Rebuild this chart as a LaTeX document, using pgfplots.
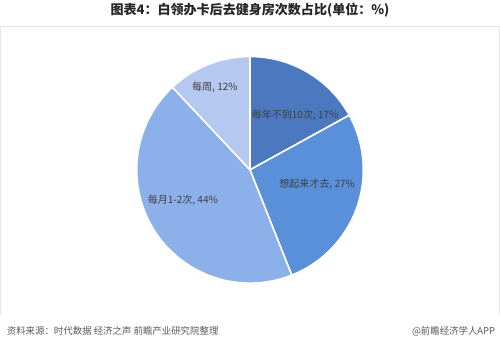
\documentclass[border=0pt]{standalone}
\usepackage{pgfplots}
\usepackage{pgfplotstable}
\pgfplotsset{compat=1.18}
\usepackage{fontspec}
\setmainfont{Noto Sans CJK SC}
\definecolor{cA}{HTML}{4B78BE}
\definecolor{cB}{HTML}{5A8FD9}
\definecolor{cC}{HTML}{8CB0EA}
\definecolor{cD}{HTML}{B5C8EF}
\definecolor{txt}{HTML}{404040}
\definecolor{foot}{HTML}{595959}
\pgfplotstableread[col sep=comma]{
label,value
A,17
B,27
C,44
D,12
}\piedata
\begin{document}
\begin{tikzpicture}
\pgfplotstablegetelem{0}{value}\of\piedata \let\va\pgfplotsretval
\pgfplotstablegetelem{1}{value}\of\piedata \let\vb\pgfplotsretval
\pgfplotstablegetelem{2}{value}\of\piedata \let\vc\pgfplotsretval
\pgfplotstablegetelem{3}{value}\of\piedata \let\vd\pgfplotsretval
\pgfmathsetmacro\aS{90}
\pgfmathsetmacro\aA{\aS-3.6*\va}
\pgfmathsetmacro\aB{\aA-3.6*\vb}
\pgfmathsetmacro\aC{\aB-3.6*\vc}
\pgfmathsetmacro\aD{\aC-3.6*\vd}
\begin{axis}[
  width=500pt, height=349pt, scale only axis,
  xmin=0, xmax=500, ymin=0, ymax=349,
  hide axis, clip=false,
]
% frame
\draw[color=black!10, line width=0.6pt] (axis cs:1,30.5) -- (axis cs:1,318.5) -- (axis cs:499,318.5) -- (axis cs:499,30.5);
% pie
\def\R{113}
\fill[cA, draw=white, line width=1.6pt] (axis cs:250,175) -- ++(\aS:\R) arc[start angle=\aS, end angle=\aA, radius=\R] -- cycle;
\fill[cB, draw=white, line width=1.6pt] (axis cs:250,175) -- ++(\aA:\R) arc[start angle=\aA, end angle=\aB, radius=\R] -- cycle;
\fill[cC, draw=white, line width=1.6pt] (axis cs:250,175) -- ++(\aB:\R) arc[start angle=\aB, end angle=\aC, radius=\R] -- cycle;
\fill[cD, draw=white, line width=1.6pt] (axis cs:250,175) -- ++(\aC:\R) arc[start angle=\aC, end angle=\aD, radius=\R] -- cycle;
% labels
\node[txt, font=\fontsize{10}{12}\selectfont] at (axis cs:295,229) {每年不到10次, 17\%};
\node[txt, font=\fontsize{10}{12}\selectfont] at (axis cs:317,161) {想起来才去, 27\%};
\node[txt, font=\fontsize{10}{12}\selectfont] at (axis cs:183,145) {每月1-2次, 44\%};
\node[txt, font=\fontsize{10}{12}\selectfont] at (axis cs:215,257) {每周, 12\%};
% title
\node[black!85, font=\fontsize{13}{15}\selectfont\bfseries] at (axis cs:250,334) {图表4：白领办卡后去健身房次数占比(单位：\%)};
% footer
\node[foot, anchor=west, font=\fontsize{9.4}{11}\selectfont] at (axis cs:4,14) {资料来源：时代数据 经济之声 前瞻产业研究院整理};
\node[foot, anchor=east, font=\fontsize{9.4}{11}\selectfont] at (axis cs:498,14) {@前瞻经济学人APP};
\end{axis}
\end{tikzpicture}
\end{document}
